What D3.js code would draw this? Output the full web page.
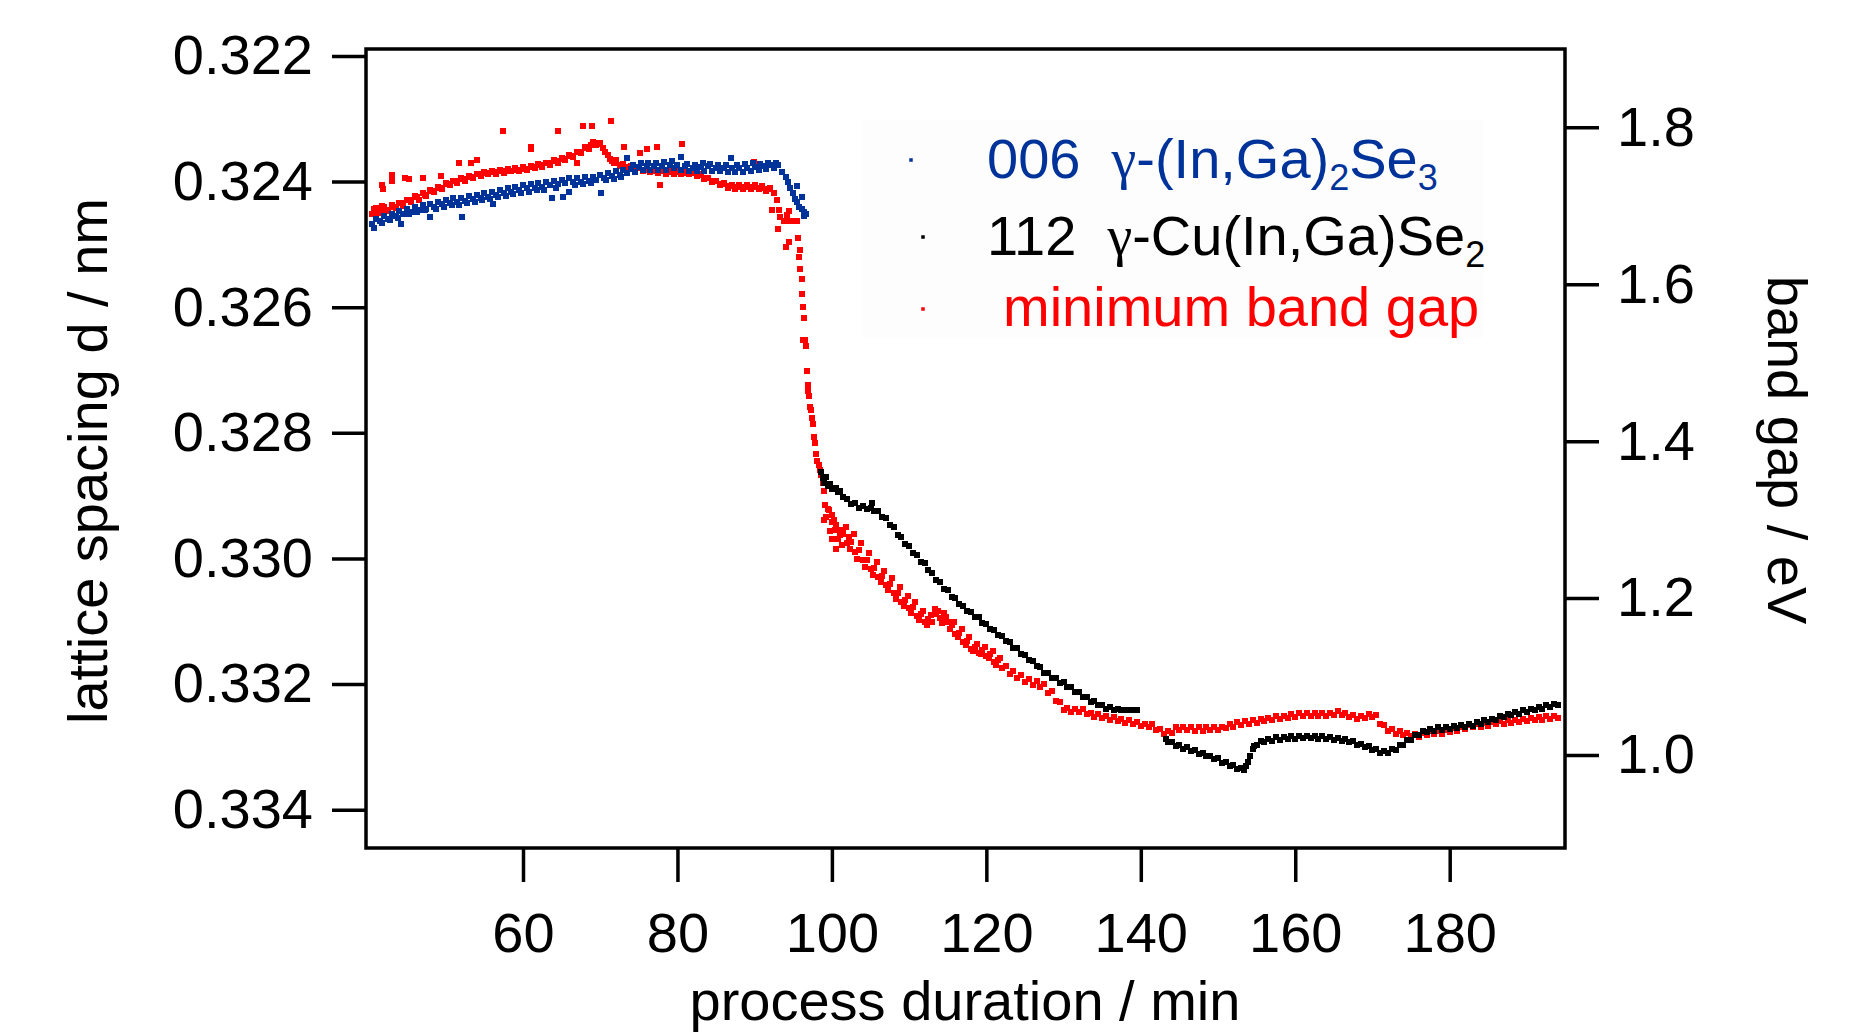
<!DOCTYPE html>
<html><head><meta charset="utf-8">
<script src="https://cdn.jsdelivr.net/npm/d3@7"></script>
<style>
html,body{margin:0;padding:0;background:#fff;}
svg{display:block;font-family:"Liberation Sans",Arial,sans-serif;}
</style></head><body>
<svg id="chart" width="1866" height="1033"></svg>
<script>
// ---------- data ----------
const xTicks = [60, 80, 100, 120, 140, 160, 180];
const leftTicks = [0.322, 0.324, 0.326, 0.328, 0.330, 0.332, 0.334];
const rightTicks = [1.0, 1.2, 1.4, 1.6, 1.8];
const xDomain = [39.67, 194.93];
const leftDomain = [0.32189, 0.33461];
const rightDomain = [0.8813, 1.8999];
const legendLabels = ["006", "112", "minimum band gap"];

// 006 γ-(In,Ga)2Se3 : [time/min, lattice spacing/nm]
const blueSeries = [
[40.5,.32468],[41,.32459],[41.5,.32463],[42,.32455],[42.5,.32459],[43,.32451],[43.5,.32455],[44,.32447],[44.5,.32452],[45,.32443],[45.5,.32448],[46,.32440],[46.5,.32445],[47,.32438],[47.5,.32443],[48,.32436],[48.5,.32440],[49,.32432],[49.5,.32436],[50,.32429],[50.5,.32434],[51,.32427],[51.5,.32432],[52,.32426],[52.5,.32431],[53,.32423],[53.5,.32428],[54,.32421],[54.5,.32426],[55,.32419],[55.5,.32424],[56,.32416],[56.5,.32421],[57,.32414],[57.5,.32418],[58,.32411],[58.5,.32416],[59,.32409],[59.5,.32414],[60,.32406],[60.5,.32411],[61,.32404],[61.5,.32410],[62,.32403],[62.5,.32408],[63,.32401],[63.5,.32406],[64,.32399],[64.5,.32404],[65,.32397],[65.5,.32402],[66,.32395],[66.5,.32401],[67,.32394],[67.5,.32400],[68,.32393],[68.5,.32399],[69,.32392],[69.5,.32397],[70,.32390],[70.5,.32394],[71,.32387],[71.5,.32391],[72,.32384],[72.5,.32389],[73,.32382],[73.5,.32387],[74,.32380],[74.5,.32385],[75,.32377],[75.5,.32382],[76,.32376],[76.5,.32382],[77,.32376],[77.5,.32382],[78,.32375],[78.5,.32381],[79,.32374],[79.5,.32379],[80,.32374],[80.5,.32381],[81,.32376],[81.5,.32384],[82,.32379],[82.5,.32384],[83,.32377],[83.5,.32383],[84,.32376],[84.5,.32383],[85,.32378],[85.5,.32384],[86,.32379],[86.5,.32385],[87,.32379],[87.5,.32385],[88,.32379],[88.5,.32385],[89,.32378],[89.5,.32383],[90,.32377],[90.5,.32382],[91,.32375],[91.5,.32380],[92,.32374],[92.5,.32379],[93,.32374],[93.5,.32385],[94,.32392],[94.3,.32400],[94.6,.32410],[94.9,.32418],[95.2,.32428],[95.5,.32433],[95.8,.32440],[96.1,.32444],[96.4,.32448],[96.6,.32452],
[40.75,.32474],[41.75,.32466],[42.75,.32461],[43.75,.32458],[44.25,.32468],[45.25,.32452],[46.25,.32449],[47.25,.32445],[48.0,.32456],[48.75,.32444],[49.75,.32440],[50.75,.32437],[51.75,.32438],[52.1,.32456],[52.75,.32434],[53.75,.32432],[54.75,.32430],[55.75,.32428],[56.1,.32436],[56.75,.32425],[57.75,.32423],[58.75,.32420],[59.75,.32418],[60.75,.32416],[61.75,.32414],[62.75,.32413],[63.7,.32427],[64.25,.32411],[65.2,.32424],[65.9,.32416],[66.75,.32405],[67.75,.32404],[68.75,.32402],[70.1,.32419],[70.75,.32398],[71.75,.32396],[72.75,.32393],[73.5,.32363],[74.25,.32373],[75.25,.32371],[76.25,.32370],[77.25,.32370],[78.25,.32369],[79.25,.32368],[80.4,.32361],[81.25,.32372],[82.25,.32373],[83.25,.32371],[84.25,.32372],[85.25,.32373],[86.25,.32374],[86.9,.32363],[87.75,.32373],[88.75,.32372],[89.75,.32371],[90.75,.32372],[91.75,.32370],[92.75,.32371],[95.5,.32407],[96.1,.32424],[96.35,.32455]
];

// 112 γ-Cu(In,Ga)Se2 : [time/min, lattice spacing/nm]
const blackSeries = [
[98.6,.32862],[98.9,.32872],[99,.32880],[99.3,.32870],[99.5,.32885],[99.8,.32881],[100,.32889],[100.5,.32888],[100.8,.32894],[101,.32893],[101.5,.32903],[102,.32905],[102.5,.32913],[103,.32912],[103.5,.32919],[104,.32917],[104.5,.32922],[105,.32920],[105.2,.32912],[105.5,.32925],[106,.32925],[106.5,.32934],[107,.32935],[107.5,.32946],[108,.32950],[108.5,.32963],[109,.32966],[109.5,.32977],[110,.32980],[110.5,.32991],[111,.32994],[111.5,.33005],[112,.33008],[112.5,.33019],[113,.33023],[113.5,.33035],[114,.33038],[114.5,.33048],[115,.33051],[115.5,.33061],[116,.33063],[116.5,.33073],[117,.33075],[117.5,.33084],[118,.33085],[118.5,.33093],[119,.33094],[119.5,.33103],[120,.33104],[120.5,.33113],[121,.33114],[121.5,.33122],[122,.33123],[122.5,.33132],[123,.33133],[123.5,.33142],[124,.33143],[124.5,.33152],[125,.33153],[125.5,.33162],[126,.33163],[126.5,.33172],[127,.33173],[127.5,.33182],[128,.33183],[128.5,.33191],[129,.33191],[129.5,.33198],[130,.33197],[130.5,.33205],[131,.33205],[131.5,.33213],[132,.33212],[132.5,.33220],[133,.33220],[133.5,.33228],[134,.33227],[134.5,.33234],[135,.33233],[135.5,.33239],[136,.33237],[136.5,.33242],[137,.33240],[137.5,.33241],[138,.33241],[138.5,.33241],[139,.33241],[139.5,.33241],
[143.2,.33287],[143.5,.33292],[144,.33292],[144.5,.33298],[145,.33297],[145.5,.33303],[146,.33301],[146.5,.33307],[147,.33305],[147.5,.33311],[148,.33309],[148.5,.33315],[149,.33314],[149.5,.33320],[150,.33318],[150.5,.33325],[151,.33324],[151.5,.33330],[152,.33329],[152.5,.33336],[153,.33334],[153.3,.33337],[153.6,.33330],[153.9,.33324],[154.2,.33314],[154.5,.33304],[154.7,.33298],[155,.33297],[155.5,.33291],[156,.33292],[156.5,.33287],[157,.33290],[157.5,.33285],[158,.33289],[158.5,.33284],[159,.33288],[159.5,.33283],[160,.33287],[160.5,.33283],[161,.33286],[161.5,.33282],[162,.33286],[162.5,.33283],[163,.33287],[163.5,.33283],[164,.33287],[164.5,.33284],[165,.33289],[165.5,.33286],[166,.33291],[166.5,.33288],[167,.33293],[167.5,.33291],[168,.33297],[168.5,.33295],[169,.33301],[169.5,.33299],[170,.33305],[170.5,.33303],[171,.33309],[171.5,.33306],[172,.33309],[172.5,.33304],[173,.33305],[173.5,.33297],[174,.33297],[174.5,.33289],[175,.33289],[175.5,.33281],[176,.33281],[176.5,.33275],[177,.33277],[177.5,.33271],[178,.33274],[178.5,.33269],[179,.33273],[179.5,.33268],[180,.33271],[180.5,.33267],[181,.33270],[181.5,.33265],[182,.33268],[182.5,.33263],[183,.33266],[183.5,.33261],[184,.33263],[184.5,.33258],[185,.33260],[185.5,.33255],[186,.33257],[186.5,.33251],[187,.33253],[187.5,.33248],[188,.33250],[188.5,.33244],[189,.33247],[189.5,.33241],[190,.33244],[190.5,.33239],[191,.33241],[191.5,.33236],[192,.33239],[192.5,.33234],[193,.33236],[193.5,.33231],[194,.33233]
];

// minimum band gap : [time/min, band gap/eV]
const redSeries = [
[40.5,1.690],[41,1.697],[41.5,1.693],[42,1.699],[42.5,1.695],[43,1.701],[43.5,1.697],[44,1.704],[44.5,1.700],[45,1.708],[45.5,1.705],[46,1.712],[46.5,1.708],[47,1.716],[47.5,1.712],[48,1.720],[48.5,1.717],[49,1.724],[49.5,1.722],[50,1.729],[50.5,1.726],[51,1.732],[51.5,1.729],[52,1.735],[52.5,1.732],[53,1.738],[53.5,1.735],[54,1.741],[54.5,1.738],[55,1.743],[55.5,1.740],[56,1.745],[56.5,1.741],[57,1.746],[57.5,1.742],[58,1.747],[58.5,1.744],[59,1.748],[59.5,1.744],[60,1.749],[60.5,1.746],[61,1.751],[61.5,1.748],[62,1.753],[62.5,1.750],[63,1.755],[63.5,1.752],[64,1.758],[64.5,1.755],[65,1.761],[65.5,1.758],[66,1.765],[66.5,1.762],[67,1.769],[67.5,1.767],[68,1.775],[68.5,1.773],[69,1.781],[69.5,1.778],[70,1.780],[70.3,1.774],[70.6,1.768],[71,1.765],[71.3,1.760],[71.5,1.757],[72,1.758],[72.5,1.751],[73,1.753],[73.5,1.748],[74,1.751],[74.5,1.746],[75,1.749],[75.5,1.744],[76,1.747],[76.5,1.743],[77,1.746],[77.5,1.742],[78,1.746],[78.5,1.741],[79,1.745],[79.5,1.741],[80,1.745],[80.5,1.741],[81,1.744],[81.5,1.740],[82,1.743],[82.5,1.738],[83,1.740],[83.5,1.734],[84,1.736],[84.5,1.730],[85,1.732],[85.5,1.726],[86,1.729],[86.5,1.723],[87,1.727],[87.5,1.722],[88,1.727],[88.5,1.721],[89,1.726],[89.5,1.721],[90,1.727],[90.5,1.721],[91,1.725],[91.5,1.719],[92,1.723],
[40.75,1.696],[41.25,1.691],[41.75,1.700],[42.25,1.694],[43.25,1.699],[44.25,1.703],[45.25,1.707],[46.25,1.711],[47.25,1.714],[48.25,1.719],[49.25,1.723],[50.25,1.728],[51.25,1.731],[52.25,1.734],[53.25,1.737],[54.25,1.740],[55.25,1.742],[56.25,1.743],[57.25,1.744],[58.25,1.745],[59.25,1.746],[60.25,1.747],[61.25,1.749],[62.25,1.752],[63.25,1.754],[64.25,1.757],[65.25,1.760],[66.25,1.764],[67.25,1.768],[68.25,1.774],[68.75,1.777],[69.25,1.780],[69.75,1.779],[71.75,1.755],[72.75,1.752],[73.75,1.749],[74.75,1.748],[75.75,1.746],[76.75,1.745],[77.75,1.744],[78.75,1.743],[79.75,1.743],[80.75,1.742],[81.75,1.742],[82.75,1.739],[83.75,1.735],[84.75,1.731],[85.75,1.728],[86.75,1.725],[87.75,1.724],[88.75,1.724],[89.75,1.724],[90.75,1.723],[91.75,1.721],
[57.4,1.795],[67.75,1.802],[68.9,1.802],[71.4,1.808],[64.55,1.795],[61.1,1.775],[61.1,1.772],[73.05,1.775],[77.3,1.775],[80.6,1.779],[75.1,1.767],[76.0,1.772],[51.7,1.755],[53.3,1.754],[54.07,1.758],[42.98,1.739],[42.98,1.731],[44.7,1.736],[45.2,1.734],[47.0,1.736],[49.4,1.738],[41.7,1.726],[41.9,1.721],[67.0,1.754],[77.7,1.727],[89.9,1.756],
[92.25,1.695],[92.5,1.716],[92.9,1.707],[93.1,1.695],[93.3,1.686],[93.0,1.671],[93.76,1.680],[94.0,1.648],[94.2,1.688],[94.4,1.693],[94.4,1.654],[94.6,1.680],[95.05,1.680],[95.5,1.681],[95.6,1.659],[95.7,1.635],[95.83,1.644],[95.92,1.620],[96.13,1.607],[96.13,1.588],[96.22,1.571],[96.35,1.557],[96.3,1.529],[96.56,1.529],[96.65,1.521],[96.78,1.489],[96.87,1.472],[96.91,1.464],[97.0,1.458],[97.12,1.444],[97.3,1.440],[97.43,1.430],[97.51,1.422],[97.64,1.405],[97.86,1.397],[97.99,1.384],[98.07,1.375],[98.29,1.370],[98.42,1.363],[98.63,1.357],[98.81,1.347],[98.94,1.336],[99.15,1.319],[99.58,1.312],[100.0,1.306],[99.02,1.299],[100.45,1.287],[101.1,1.287],[100.0,1.275],[100.58,1.263],[101.5,1.282],[102.17,1.278],
[99.5,1.313],[100,1.297],[100.5,1.293],[101,1.280],[101.5,1.283],[102,1.270],[102.5,1.271],[103,1.259],[103.5,1.261],[104,1.249],[104.5,1.249],[105,1.237],[105.5,1.238],[106,1.227],[106.5,1.228],[107,1.217],[107.5,1.218],[108,1.206],[108.5,1.206],[109,1.195],[109.5,1.197],[110,1.187],[110.5,1.188],[111,1.177],[111.5,1.179],[112,1.169],[112.5,1.173],[113,1.169],[113.5,1.180],[114,1.174],[114.5,1.181],[115,1.169],[115.5,1.166],[116,1.154],[116.5,1.155],[117,1.144],[117.5,1.145],[118,1.135],[118.5,1.138],[119,1.130],[119.5,1.134],[120,1.126],[120.5,1.129],[121,1.119],[121.5,1.121],[122,1.111],[122.5,1.113],[123,1.103],[123.5,1.107],[124,1.098],[124.5,1.102],[125,1.093],[125.5,1.097],[126,1.089],[126.5,1.094],[127,1.086],[127.5,1.090],[128,1.079],[128.5,1.081],[129,1.069],[129.5,1.068],[130,1.057],[130.5,1.060],[131,1.055],[131.5,1.059],[132,1.055],[132.5,1.058],[133,1.052],[133.5,1.054],[134,1.048],[134.5,1.052],[135,1.047],[135.5,1.050],[136,1.045],[136.5,1.048],[137,1.043],[137.5,1.046],[138,1.041],[138.5,1.044],[139,1.039],[139.5,1.042],[140,1.037],[140.5,1.040],[141,1.036],[141.5,1.040],[142,1.032],[142.5,1.033],[143,1.027],[143.5,1.030],[144,1.028],[144.5,1.035],[145,1.032],[145.5,1.036],[146,1.032],[146.5,1.035],[147,1.031],[147.5,1.035],[148,1.031],[148.5,1.036],[149,1.032],[149.5,1.036],[150,1.032],[150.5,1.036],[151,1.034],[151.5,1.039],[152,1.036],[152.5,1.042],[153,1.038],[153.5,1.043],[154,1.040],[154.5,1.045],[155,1.041],[155.5,1.046],[156,1.043],[156.5,1.047],[157,1.044],[157.5,1.049],[158,1.046],[158.5,1.050],[159,1.047],[159.5,1.052],[160,1.048],[160.5,1.053],[161,1.049],[161.5,1.053],[162,1.049],[162.5,1.053],[163,1.049],[163.5,1.053],[164,1.050],[164.5,1.054],[165,1.051],[165.5,1.056],[166,1.051],[166.5,1.053],[167,1.048],[167.5,1.051],[168,1.046],[168.5,1.050],[169,1.047],[169.5,1.052],[170,1.048],[170.5,1.051],[171,1.040],[171.5,1.038],[172,1.031],[172.5,1.033],[173,1.027],[173.5,1.030],[174,1.025],[174.5,1.028],[175,1.024],[175.5,1.027],[176,1.023],[176.5,1.028],[177,1.025],[177.5,1.030],[178,1.026],[178.5,1.030],[179,1.027],[179.5,1.032],[180,1.029],[180.5,1.034],[181,1.031],[181.5,1.036],[182,1.033],[182.5,1.038],[183,1.035],[183.5,1.040],[184,1.036],[184.5,1.041],[185,1.037],[185.5,1.042],[186,1.039],[186.5,1.043],[187,1.040],[187.5,1.044],[188,1.041],[188.5,1.045],[189,1.042],[189.5,1.046],[190,1.043],[190.5,1.047],[191,1.044],[191.5,1.048],[192,1.045],[192.5,1.049],[193,1.046],[193.5,1.050],[194,1.047],
[99.3,1.303],[99.8,1.286],[100.3,1.300],[100.8,1.275],[101.3,1.268],[101.8,1.290],[102.3,1.262],[102.8,1.281],[103.3,1.250],[103.8,1.270],[104.3,1.240],[104.8,1.258],[105.3,1.229],[105.8,1.246],[106.3,1.220],[106.8,1.234],[107.3,1.210],[107.8,1.225],[108.3,1.199],[108.8,1.214],[109.3,1.190],[109.8,1.203],[110.3,1.181],[110.8,1.195],[111.3,1.172],[111.8,1.184],[112.3,1.166],[112.8,1.178],[113.3,1.186],[113.8,1.184],[114.3,1.168],[114.8,1.176],[115.3,1.160],[115.8,1.170],[116.3,1.150],[116.8,1.160],[117.3,1.140],[117.8,1.150],[118.3,1.132],[118.8,1.142],[119.3,1.128],[119.8,1.138],[120.3,1.123],[120.8,1.132],[121.3,1.115],[121.8,1.124]
];

// ---------- drawing ----------
const BLUE = "#003399", RED = "#ff0000", BLACK = "#000000";
const FONT = 56;
const svg = d3.select("#chart");
svg.append("rect").attr("width",1866).attr("height",1033).attr("fill","#fff");

const L = 366, R = 1565, T = 49, B = 848;
const x = d3.scaleLinear().domain(xDomain).range([L, R]);
const yL = d3.scaleLinear().domain(leftDomain).range([T, B]);
const yR = d3.scaleLinear().domain(rightDomain).range([B, T]);

function styleAxis(g){
  g.select(".domain").remove();
  g.selectAll(".tick line").attr("stroke","#000").attr("stroke-width",3.5);
  g.selectAll(".tick text").attr("fill","#000").attr("font-size",FONT)
    .attr("font-family",'"Liberation Sans", Arial, sans-serif');
}
svg.append("g").attr("transform",`translate(${L},0)`)
  .call(d3.axisLeft(yL).tickValues(leftTicks).tickFormat(d3.format(".3f")).tickSize(34).tickPadding(19))
  .call(styleAxis);
svg.append("g").attr("transform",`translate(${R},0)`)
  .call(d3.axisRight(yR).tickValues(rightTicks).tickFormat(d3.format(".1f")).tickSize(34).tickPadding(18))
  .call(styleAxis);
svg.append("g").attr("transform",`translate(0,${B})`)
  .call(d3.axisBottom(x).tickValues(xTicks).tickFormat(d3.format("d")).tickSize(34).tickPadding(30))
  .call(styleAxis);

// legend box (very light)
svg.append("rect").attr("x",862).attr("y",120).attr("width",621).attr("height",218).attr("fill","#fdfdfd");

// markers
const MS = 6;
function drawSeries(data, yScale, color){
  svg.append("g").attr("shape-rendering","crispEdges")
    .selectAll("rect").data(data).join("rect")
    .attr("x", d => x(d[0]) - MS/2).attr("y", d => yScale(d[1]) - MS/2)
    .attr("width", MS).attr("height", MS).attr("fill", color);
}
drawSeries(redSeries, yR, RED);
drawSeries(blackSeries, yL, BLACK);
drawSeries(blueSeries, yL, BLUE);

// frame
svg.append("rect").attr("x",L).attr("y",T).attr("width",R-L).attr("height",B-T)
  .attr("fill","none").attr("stroke","#000").attr("stroke-width",3.5);

// axis titles
svg.append("text").attr("transform","translate(107,461) rotate(-90)")
  .attr("text-anchor","middle").attr("font-size",FONT).text("lattice spacing d / nm");
svg.append("text").attr("transform","translate(1768,450) rotate(90)")
  .attr("text-anchor","middle").attr("font-size",FONT).text("band gap / eV");
svg.append("text").attr("x",965).attr("y",1020)
  .attr("text-anchor","middle").attr("font-size",FONT).text("process duration / min");

// legend
const SUB = 36, SH = 12;
function legendEntry(mx, my, tx, ty, color, parts){
  svg.append("rect").attr("x",mx-1.75).attr("y",my-1.75).attr("width",3.5).attr("height",3.5).attr("fill",color);
  const t = svg.append("text").attr("x",tx).attr("y",ty).attr("fill",color)
    .attr("font-size",FONT).style("white-space","pre");
  parts.forEach(p => {
    const s = t.append("tspan").text(p.t);
    if (p.serif) s.attr("font-family",'"Liberation Serif", "Times New Roman", serif');
    if (p.sub) s.attr("font-size",SUB).attr("dy",SH);
    if (p.up) s.attr("dy",-SH);
  });
}
legendEntry(911,160,987,178,BLUE,[
  {t:legendLabels[0]+"  "},{t:"γ",serif:true},{t:"-(In,Ga)"},{t:"2",sub:true},{t:"Se",up:true},{t:"3",sub:true}]);
legendEntry(923,237,987,255,BLACK,[
  {t:legendLabels[1]+"  "},{t:"γ",serif:true},{t:"-Cu(In,Ga)Se"},{t:"2",sub:true}]);
legendEntry(923,309,1003,326,RED,[{t:legendLabels[2]}]);
</script>
</body></html>
